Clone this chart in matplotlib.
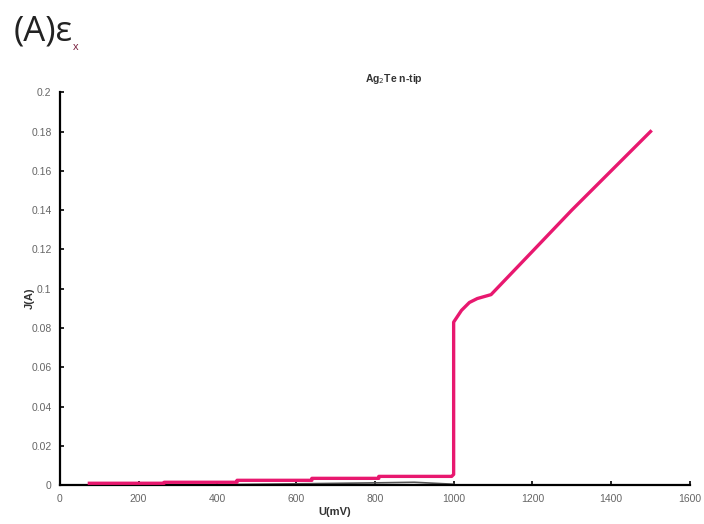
import numpy as np
import matplotlib.pyplot as plt

plt.rcParams['font.family'] = ['Liberation Sans', 'DejaVu Sans']

# pink curve (voltage in mV, current in A)
u_mv = [75, 265, 265, 450, 450, 640, 640, 810, 810, 995, 1000, 1000, 1020, 1040, 1060, 1095, 1200, 1300, 1400, 1500]
j_a = [0.001, 0.001, 0.0015, 0.0015, 0.0025, 0.0025, 0.0035, 0.0035, 0.0045, 0.0045, 0.0055,
       0.083, 0.089, 0.093, 0.095, 0.097, 0.119, 0.140, 0.160, 0.180]

# dark trace partly hidden under the pink one
u_dark = [100, 450, 640, 800, 900, 1000]
j_dark = [0.0002, 0.0004, 0.0008, 0.0012, 0.0015, 0.0005]

xticks = [0, 200, 400, 600, 800, 1000, 1200, 1400, 1600]
yticks = [0, 0.02, 0.04, 0.06, 0.08, 0.1, 0.12, 0.14, 0.16, 0.18, 0.2]
ytick_labels = ['0', '0.02', '0.04', '0.06', '0.08', '0.1', '0.12', '0.14', '0.16', '0.18', '0.2']

fig = plt.figure(figsize=(7.04, 5.24), dpi=100)
ax = fig.add_axes([0.085, 0.074, 0.895, 0.75])

ax.plot(u_dark, j_dark, color='#555555', lw=1.2, zorder=2)
ax.plot(u_mv, j_a, color='#e8186f', lw=2.4, solid_joinstyle='round', zorder=3)

ax.set_xlim(0, 1600)
ax.set_ylim(0, 0.2)
ax.set_xticks(xticks)
ax.set_xticklabels([str(t) for t in xticks])
ax.set_yticks(yticks)
ax.set_yticklabels(ytick_labels)
ax.tick_params(direction='in', length=3, width=1.2, labelsize=7.5, labelcolor='#666666', pad=6)

ax.spines['top'].set_visible(False)
ax.spines['right'].set_visible(False)
ax.spines['left'].set_linewidth(1.6)
ax.spines['bottom'].set_linewidth(1.6)

ax.text(0.53, 1.015, 'Ag$_2$Te n-tip', transform=ax.transAxes, ha='center', va='bottom',
        fontsize=7.5, fontweight='bold', color='#333333')
fig.text(0.476, 0.022, 'U(mV)', ha='center', va='center', fontsize=8, fontweight='bold', color='#333333')
fig.text(0.042, 0.43, 'J(A)', ha='center', va='center', rotation=90, fontsize=8,
         fontweight='bold', color='#333333')

# panel label with a small subscript right after the epsilon
lab = fig.text(0.02, 0.94, '(A)\u03b5', ha='left', va='center', fontsize=25,
               family=['Open Sans', 'DejaVu Sans'], color='#222222')
ax.annotate('x', xy=(1, 0.05), xycoords=lab, xytext=(0, 0), textcoords='offset points',
            ha='left', va='center', fontsize=8, color='#7a2240', annotation_clip=False)

fig.savefig('out.png', dpi=100)
